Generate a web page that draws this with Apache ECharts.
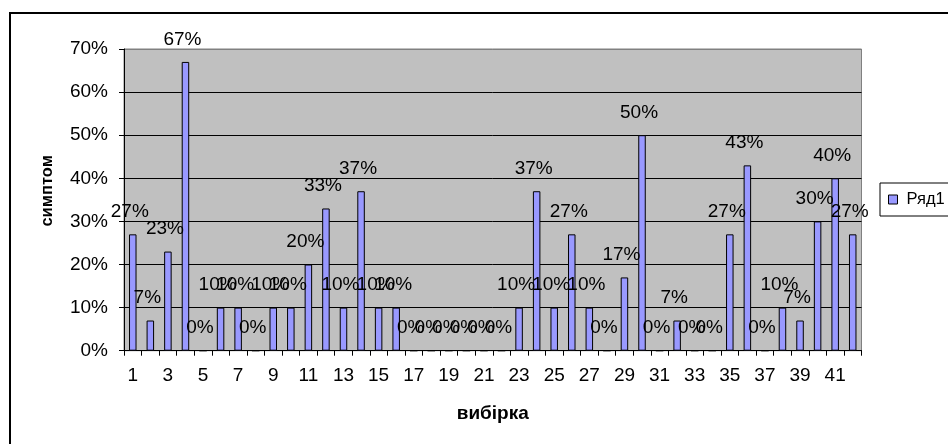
<!DOCTYPE html>
<html>
<head>
<meta charset="utf-8">
<style>
  html, body { margin: 0; padding: 0; background: #fff; }
  #chart { width: 948px; height: 444px; }
</style>
<script src="https://cdn.jsdelivr.net/npm/echarts@6/dist/echarts.min.js"></script>
</head>
<body>
<div id="chart"></div>
<script>
// Sample numbers along the x axis
const categories = Array.from({ length: 42 }, (_, i) => String(i + 1));
// Share of the symptom in each sample, percent
const values = [
  27, 7, 23, 67, 0, 10, 10, 0, 10, 10,
  20, 33, 10, 37, 10, 10, 0, 0, 0, 0,
  0, 0, 10, 37, 10, 27, 10, 0, 17, 50,
  0, 7, 0, 0, 27, 43, 0, 10, 7, 30,
  40, 27
];
const seriesName = 'Ряд1';
const xTitle = 'вибірка';
const yTitle = 'симптом';

const FONT = "'Liberation Sans', Arial, sans-serif";
const FS = 19;

const chart = echarts.init(document.getElementById('chart'));
chart.setOption({
  backgroundColor: '#ffffff',
  animation: false,
  textStyle: { fontFamily: FONT, color: '#000' },
  graphic: [{
    type: 'rect',
    shape: { x: 10, y: 13, width: 960, height: 460 },
    style: { fill: 'none', stroke: '#000', lineWidth: 2 },
    silent: true
  }],
  grid: {
    left: 124, top: 49, width: 737.5, height: 301.7,
    show: true, backgroundColor: '#C0C0C0',
    borderColor: '#808080', borderWidth: 1
  },
  legend: {
    left: 880, top: 183,
    orient: 'vertical',
    padding: [8, 8, 8, 8],
    borderColor: '#000', borderWidth: 1,
    backgroundColor: '#fff',
    itemWidth: 9, itemHeight: 9,
    icon: 'rect',
    itemStyle: { borderColor: '#000', borderWidth: 1 },
    textStyle: { fontFamily: FONT, fontSize: 16.5, color: '#000', padding: [0, 0, 0, 4] },
    data: [seriesName]
  },
  xAxis: {
    type: 'category',
    data: categories,
    name: xTitle,
    nameLocation: 'middle',
    nameGap: 54,
    nameTextStyle: { fontFamily: FONT, fontSize: 19, fontWeight: 'bold', color: '#000' },
    axisLine: { lineStyle: { color: '#000', width: 1 } },
    axisTick: { show: true, interval: 0, length: 5, lineStyle: { color: '#000' } },
    axisLabel: { interval: 1, fontFamily: FONT, fontSize: FS, color: '#000', margin: 16 },
    splitLine: { show: false }
  },
  yAxis: {
    type: 'value',
    min: 0, max: 70, interval: 10,
    name: yTitle,
    nameLocation: 'middle',
    nameRotate: 90,
    nameGap: 68,
    nameTextStyle: {
      fontFamily: FONT, fontSize: 16.5, fontWeight: 'bold', color: '#000',
      padding: [0, 0, 0, 18]
    },
    axisLine: { show: true, lineStyle: { color: '#000', width: 1 } },
    axisTick: { show: true, length: 5, lineStyle: { color: '#000' } },
    axisLabel: { formatter: '{value}%', fontFamily: FONT, fontSize: FS, color: '#000', margin: 16 },
    splitLine: {
      show: true,
      lineStyle: { color: ['#000', '#000', '#000', '#000', '#000', '#000', '#000', '#808080'], width: 1 }
    }
  },
  series: [{
    name: seriesName,
    type: 'bar',
    data: values,
    barWidth: 7.5,
    itemStyle: { color: '#9999FF', borderColor: '#000', borderWidth: 1 },
    label: {
      show: true,
      position: 'top',
      distance: 13,
      offset: [-3, 0],
      formatter: p => p.value + '%',
      fontFamily: FONT, fontSize: FS, color: '#000'
    }
  }]
});
</script>
</body>
</html>
